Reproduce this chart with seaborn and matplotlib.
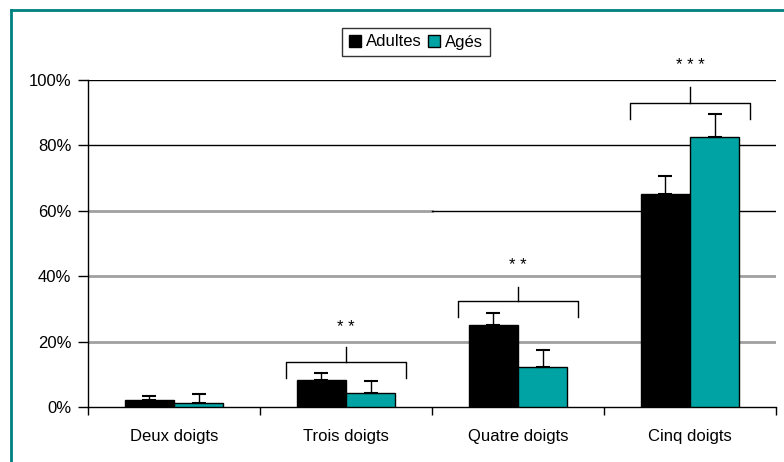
import matplotlib
matplotlib.use("Agg")
import matplotlib.pyplot as plt
import seaborn as sns
import pandas as pd
import numpy as np
from matplotlib.lines import Line2D
from matplotlib.patches import Patch

categories = ["Deux doigts", "Trois doigts", "Quatre doigts", "Cinq doigts"]
groups = ["Adultes", "Agés"]
adultes = [2.1, 8.3, 25.0, 65.1]
ages = [1.2, 4.3, 12.2, 82.6]
adultes_err = [1.3, 2.1, 3.7, 5.5]
ages_err = [2.8, 3.7, 5.2, 7.0]
signif = ["", "* *", "* *", "* * *"]
bracket_y = [None, 13.8, 32.4, 93.0]
leg_y = [None, 8.9, 27.5, 88.0]
stem_y = [None, 18.3, 36.7, 98.0]
star_y = [None, 22.0, 41.0, 102.0]

df = pd.DataFrame({
    "cat": categories * 2,
    "grp": [groups[0]] * 4 + [groups[1]] * 4,
    "val": adultes + ages,
})

plt.rcParams['font.family'] = ['Liberation Sans', 'DejaVu Sans']
fig = plt.figure(figsize=(7.84, 4.62), dpi=100)
ax = fig.add_axes([88/784, 1-407/462, (776-88)/784, (407-80)/462])

black = "#000000"
teal = "#00A3A3"
sns.barplot(data=df, x="cat", y="val", hue="grp", order=categories, hue_order=groups,
            palette=[black, teal], saturation=1, width=0.57, edgecolor="black", linewidth=1,
            errorbar=None, legend=False, ax=ax, zorder=3)

patches = [p for p in ax.patches]
errs = adultes_err + ages_err
vals = adultes + ages
for p, v, e in zip(patches, vals, errs):
    xc = p.get_x() + p.get_width() / 2
    ax.errorbar(xc, v, yerr=[[0], [e]], fmt="none", ecolor="black", elinewidth=1,
                capsize=5, capthick=1.5, zorder=4)

ax.set_ylim(0, 100)
ax.set_xlim(-0.5, 3.5)

for y in [20, 40]:
    ax.axhline(y, color="#A0A0A0", lw=2, zorder=1)
ax.axhline(60, xmin=0, xmax=0.5, color="#A0A0A0", lw=2, zorder=1)
ax.axhline(60, xmin=0.5, xmax=1, color="black", lw=1, zorder=1)
for y in [80, 100]:
    ax.axhline(y, color="black", lw=1, zorder=1)

half = 0.35
for i, s in enumerate(signif):
    if not s:
        continue
    by = bracket_y[i]
    ax.plot([i - half, i - half, i + half, i + half], [leg_y[i], by, by, leg_y[i]],
            color="black", lw=1, zorder=5, clip_on=False)
    ax.plot([i, i], [by, stem_y[i]], color="black", lw=1, zorder=5, clip_on=False)
    ax.text(i, star_y[i], s, ha="center", va="bottom", fontsize=12, zorder=5, clip_on=False)

for sp in ["top", "right"]:
    ax.spines[sp].set_visible(False)
ax.spines["left"].set_linewidth(1)
ax.spines["bottom"].set_linewidth(1)
ax.set_yticks([0, 20, 40, 60, 80, 100])
ax.set_yticklabels(["0%", "20%", "40%", "60%", "80%", "100%"], fontsize=12)
ax.set_xticks(range(4))
ax.set_xticklabels(categories, fontsize=12)
ax.tick_params(axis="x", length=0, pad=16)
ax.tick_params(axis="y", length=7, direction="out", width=1, pad=5)
ax.set_xticks([-0.5, 0.5, 1.5, 2.5, 3.5], minor=True)
ax.tick_params(axis="x", which="minor", length=6, width=1, direction="out")
ax.set_xlabel("")
ax.set_ylabel("")

handles = [Patch(facecolor=black, edgecolor="black", label="Adultes"),
           Patch(facecolor=teal, edgecolor="black", label="Agés")]
leg = fig.legend(handles=handles, loc="center", bbox_to_anchor=(416/784, 1-42/462), ncol=2,
                 frameon=True, fancybox=False, edgecolor="black", fontsize=12,
                 handlelength=0.7, handleheight=0.7, handletextpad=0.3, columnspacing=0.4,
                 borderpad=0.4, borderaxespad=0)
leg.get_frame().set_linewidth(1)

fig.add_artist(Line2D([11/784, 11/784], [0, 1-10/462], transform=fig.transFigure,
                      color="#008080", lw=2))
fig.add_artist(Line2D([11/784, 1], [1-10/462, 1-10/462], transform=fig.transFigure,
                      color="#008080", lw=2))

fig.savefig("out.png", dpi=100)
